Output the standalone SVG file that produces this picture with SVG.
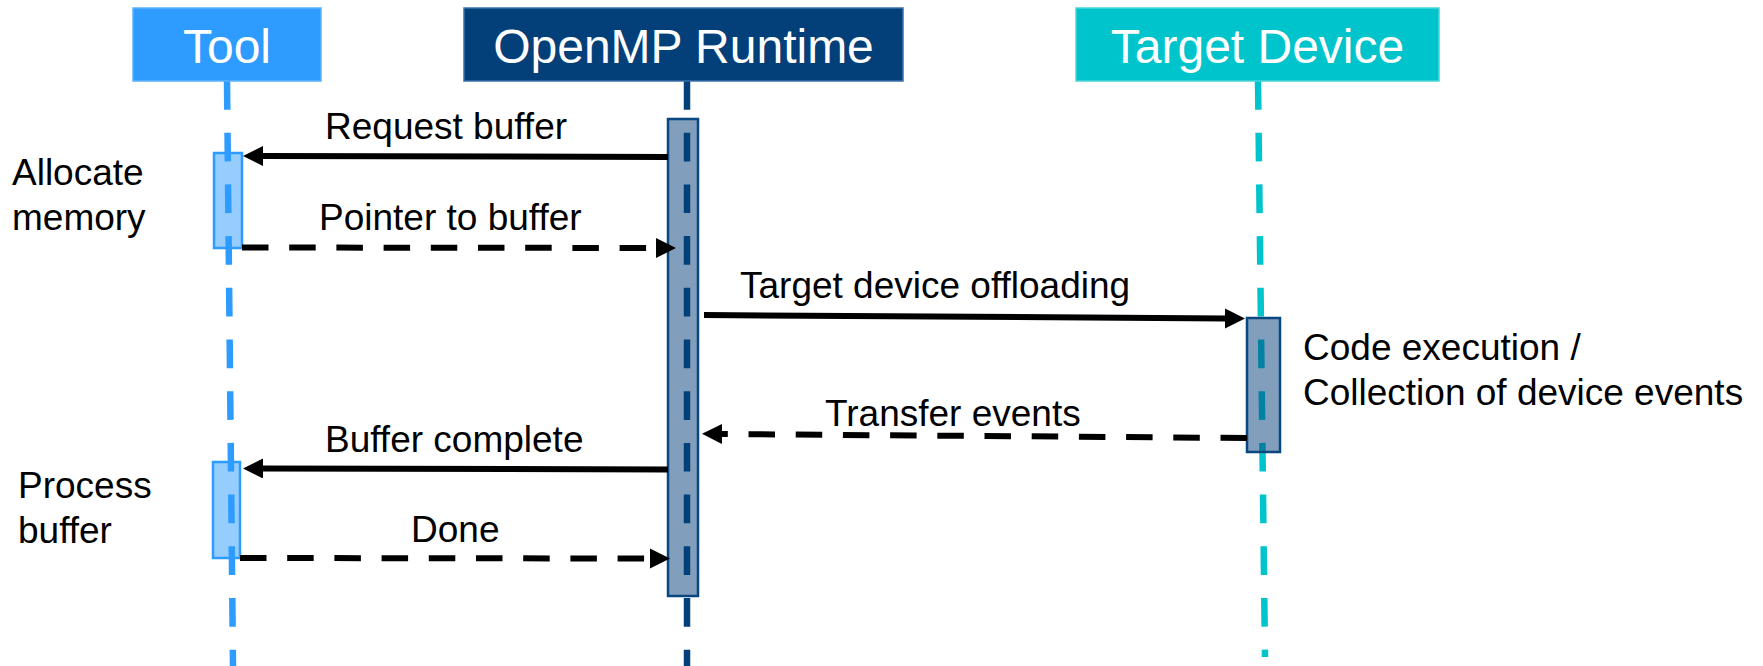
<svg xmlns="http://www.w3.org/2000/svg" width="1763" height="666" viewBox="0 0 1763 666">
  <defs>
    <!-- filled arrowhead; the line stops 18px short of the tip -->
    <marker id="head" markerUnits="userSpaceOnUse" markerWidth="22" markerHeight="22" refX="2" refY="10" orient="auto">
      <path d="M0,0 L20,10 L0,20 Z" fill="#000"/>
    </marker>
    <style>
      text { font-family: "Liberation Sans", Arial, sans-serif; }
      .hdr { font-size: 48px; fill: #fff; text-anchor: middle; }
      .lbl { font-size: 37px; fill: #000; }
      .life { fill: none; stroke-width: 6.5; stroke-dasharray: 28.7 23; }
      .msg { fill: none; stroke: #000; stroke-width: 6; marker-end: url(#head); }
      .reply { stroke-dasharray: 26.5 20.7; }
      .act-navy { fill: #03407A; fill-opacity: 0.5; stroke: #0A4680; stroke-width: 2.5; }
      .act-blue { fill: #2E9BFF; fill-opacity: 0.5; stroke: #2E9BFF; stroke-width: 2.5; }
    </style>
  </defs>

  <rect width="1763" height="666" fill="#fff"/>

  <!-- Tool participant -->
  <g id="tool">
    <path class="life" d="M227,81 L233,666" stroke="#2E9BFF"/>
    <rect x="133" y="8" width="188" height="73" fill="#2E9BFF" stroke="#5CB2FF" stroke-width="1.5"/>
    <text class="hdr" x="227" y="63">Tool</text>
    <rect class="act-blue" x="214" y="153" width="28" height="95"/>
    <rect class="act-blue" x="213" y="462" width="27" height="96"/>
  </g>

  <!-- OpenMP Runtime participant -->
  <g id="runtime">
    <path class="life" d="M687,81 L687,666" stroke="#03407A"/>
    <rect x="464" y="8" width="439" height="73" fill="#03407A" stroke="#3A70A8" stroke-width="1.5"/>
    <text class="hdr" x="683.5" y="63">OpenMP Runtime</text>
    <rect class="act-navy" x="668" y="119" width="30" height="477"/>
  </g>

  <!-- Target Device participant -->
  <g id="target">
    <path class="life" d="M1258,81 L1265,657" stroke="#00C4CC"/>
    <rect x="1076" y="8" width="363" height="73" fill="#00C4CC" stroke="#48D4DA" stroke-width="1.5"/>
    <text class="hdr" x="1257.5" y="63">Target Device</text>
    <rect class="act-navy" x="1247" y="318" width="33" height="134"/>
  </g>

  <!-- side notes -->
  <g id="note-allocate">
    <text class="lbl" x="12" y="185">Allocate</text>
    <text class="lbl" x="12" y="230">memory</text>
  </g>
  <g id="note-process">
    <text class="lbl" x="18" y="498">Process</text>
    <text class="lbl" x="18" y="543">buffer</text>
  </g>
  <g id="note-exec">
    <text class="lbl" x="1303" y="360">Code execution /</text>
    <text class="lbl" x="1303" y="405">Collection of device events</text>
  </g>

  <!-- messages -->
  <g id="connectors">
    <path class="msg" d="M668,157 L261,156"/>
    <text class="lbl" x="325" y="139">Request buffer</text>

    <path class="msg reply" d="M242,247.5 L658,248"/>
    <text class="lbl" x="319" y="230">Pointer to buffer</text>

    <path class="msg" d="M704,315 L1227,318.5"/>
    <text class="lbl" x="740" y="298">Target device offloading</text>

    <path class="msg reply" d="M1247,438 L720,434"/>
    <text class="lbl" x="825" y="426">Transfer events</text>

    <path class="msg" d="M668,469.5 L261,468.5"/>
    <text class="lbl" x="325" y="452">Buffer complete</text>

    <path class="msg reply" d="M240,558 L652,558.5"/>
    <text class="lbl" x="411" y="542">Done</text>
  </g>
</svg>
